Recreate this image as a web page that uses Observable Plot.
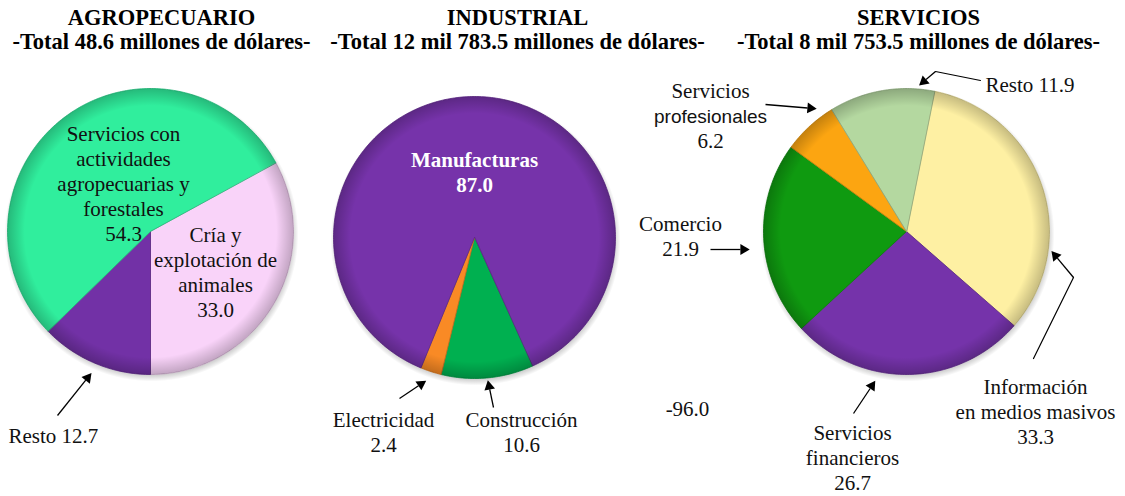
<!DOCTYPE html>
<html><head><meta charset="utf-8">
<script src="https://cdn.jsdelivr.net/npm/d3@7"></script>
<script src="https://cdn.jsdelivr.net/npm/@observablehq/plot@0.6"></script>
<style>
  html,body{margin:0;padding:0;background:#fff;}
  #chart svg{display:block;}
</style>
</head>
<body>
<div id="chart"></div>
<script>
// ---------------- DATA ----------------
const agroTitle = ["AGROPECUARIO", "-Total 48.6 millones de dólares-"];
const indTitle = ["INDUSTRIAL", "-Total 12 mil 783.5 millones de dólares-"];
const servTitle = ["SERVICIOS", "-Total 8 mil 753.5 millones de dólares-"];

const agroCategories = ["Cría y\nexplotación de\nanimales", "Resto", "Servicios con\nactividades\nagropecuarias y\nforestales"];
const agroValues = [33.0, 12.7, 54.3];

const indCategories = ["Construcción", "Electricidad", "Manufacturas"];
const indValues = [10.6, 2.4, 87.0];

const servCategories = ["Información\nen medios masivos", "Servicios\nfinancieros", "Comercio", "Servicios\nprofesionales", "Resto"];
const servValues = [33.3, 26.7, 21.9, 6.2, 11.9];

const strayLabels = ["-96.0"];

// ---------------- LAYOUT / STYLE ----------------
const W = 1125, H = 496;
const SERIF = "Liberation Serif";
const SANS = "Liberation Sans";

const pies = [
  {key: "agro", title: agroTitle, cats: agroCategories, vals: agroValues,
   cx: 150, cy: 231, r: 143, start: 61.2, titleX: 161,
   colors: ["#F9D3F9", "#7231A6", "#30EE9D"],
   labels: [
     {x: 215, y: 316, lh: 25},
     {x: 8, y: 442, anchor: "start", sep: " "},
     {x: 123, y: 240, lh: 25}
   ]},
  {key: "ind", title: indTitle, cats: indCategories, vals: indValues,
   cx: 474, cy: 237, r: 141, start: 155.5, titleX: 517,
   colors: ["#00B050", "#F98A25", "#7633AA"],
   labels: [
     {x: 521, y: 451, lh: 25},
     {x: 383, y: 451, lh: 25},
     {x: 474, y: 191, lh: 25, style: "boldWhite"}
   ]},
  {key: "serv", title: servTitle, cats: servCategories, vals: servValues,
   cx: 906, cy: 231, r: 143, start: 11.3, titleX: 918,
   colors: ["#FEF0A3", "#7533AA", "#0F9A10", "#FCA511", "#B4D8A0"],
   labels: [
     {x: 1035, y: 443, lh: 25},
     {x: 852, y: 489, lh: 25},
     {x: 680, y: 255, lh: 25},
     {x: 710, y: 147, lh: 25, sansLine: 1},
     {x: 985, y: 91, anchor: "start", sep: " "}
   ]}
];

const strayLayout = [{x: 687, y: 415}];

const arrows = [
  {x1: 57, y1: 415, x2: 89, y2: 375},
  {x1: 399, y1: 398, x2: 423, y2: 382},
  {x1: 493, y1: 407, x2: 488, y2: 383},
  {x1: 710, y1: 249, x2: 746, y2: 249},
  {x1: 765, y1: 104, x2: 813, y2: 108},
  {x1: 853, y1: 413, x2: 873, y2: 383},
  {x1: 1073, y1: 277, x2: 1053, y2: 253},
  {x1: 935, y1: 71, x2: 921, y2: 83}
];
const leaders = [
  {id: "info", x: 1033, y: 358}, {id: "info", x: 1073, y: 277},
  {id: "resto", x: 980, y: 80}, {id: "resto", x: 935, y: 71}
];

// ---------------- BUILD ----------------
const slicePts = [];
const rows = [];
pies.forEach(p => {
  const arcs = d3.pie().sort(null)
    .startAngle(p.start * Math.PI / 180)
    .endAngle((p.start + 360) * Math.PI / 180)(p.vals);
  arcs.forEach((a, i) => {
    const key = p.key + i;
    const fill = p.colors[i];
    const stroke = d3.color(fill).darker(0.7).formatHex();
    slicePts.push({key, x: p.cx, y: p.cy, fill, stroke});
    const span = a.endAngle - a.startAngle;
    const steps = Math.max(2, Math.ceil(span * 180 / Math.PI));
    for (let k = 0; k <= steps; k++) {
      const t = a.startAngle + span * k / steps;
      slicePts.push({key, x: p.cx + p.r * Math.sin(t), y: p.cy - p.r * Math.cos(t), fill, stroke});
    }
    const L = p.labels[i];
    const txt = p.cats[i] + (L.sep || "\n") + p.vals[i].toFixed(1);
    const lines = txt.split("\n");
    const n = lines.length;
    lines.forEach((line, j) => {
      rows.push({
        x: L.x, y: L.y - (n - 1 - j) * (L.lh || 25), text: line,
        anchor: L.anchor || "middle",
        style: L.style || (L.sansLine === j ? "sans" : "serif")
      });
    });
  });
});
strayLabels.forEach((t, i) => rows.push({x: strayLayout[i].x, y: strayLayout[i].y, text: t, anchor: "middle", style: "serif"}));

const titleRows = [];
pies.forEach(p => p.title.forEach((t, j) => titleRows.push({x: p.titleX, y: 24 + j * 24, text: t})));

const rimData = pies.map(p => ({x: p.cx, y: p.cy, r: p.r}));
const shadowData = pies.map(p => ({x: p.cx + 1, y: p.cy + 3, r: p.r + 4}));

// arrow shafts + filled heads
const shafts = [], heads = [];
arrows.forEach(a => {
  const dx = a.x2 - a.x1, dy = a.y2 - a.y1, len = Math.hypot(dx, dy);
  const ux = dx / len, uy = dy / len;
  shafts.push({x1: a.x1, y1: a.y1, x2: a.x2 - ux * 6, y2: a.y2 - uy * 6});
  heads.push({x: a.x2 - ux * 3, y: a.y2 - uy * 3, rot: Math.atan2(dx, -dy) * 180 / Math.PI});
});

const textMark = (filterFn, extra) => Plot.text(rows.filter(filterFn), Object.assign({
  x: "x", y: "y", text: "text", lineAnchor: "bottom", fill: "#111"
}, extra));

const plot = Plot.plot({
  width: W, height: H,
  margin: 0,
  x: {domain: [0, W], range: [0, W], axis: null},
  y: {domain: [0, H], range: [0, H], axis: null},
  color: {type: "identity"},
  r: {type: "identity"},
  style: {background: "#fff"},
  marks: [
    Plot.dot(shadowData, {x: "x", y: "y", r: "r", fill: "url(#shadow)", stroke: "none"}),
    Plot.line(slicePts, {x: "x", y: "y", z: "key", fill: "fill", stroke: "stroke",
      strokeWidth: 1, strokeOpacity: 0.8, curve: "linear-closed"}),
    Plot.dot(rimData, {x: "x", y: "y", r: "r", fill: "url(#rim)", stroke: "none"}),
    textMark(d => d.style === "serif" && d.anchor === "middle", {fontFamily: SERIF, fontSize: 21, textAnchor: "middle"}),
    textMark(d => d.style === "serif" && d.anchor === "start", {fontFamily: SERIF, fontSize: 21, textAnchor: "start"}),
    textMark(d => d.style === "sans", {fontFamily: SANS, fontSize: 19, textAnchor: "middle"}),
    textMark(d => d.style === "boldWhite", {fontFamily: SERIF, fontSize: 21, fontWeight: "bold", textAnchor: "middle", fill: "#fff"}),
    Plot.text(titleRows, {x: "x", y: "y", text: "text", lineAnchor: "bottom", fontFamily: SERIF,
      fontSize: 22.5, fontWeight: "bold", textAnchor: "middle", fill: "#000"}),
    Plot.line(leaders, {x: "x", y: "y", z: "id", stroke: "#000", strokeWidth: 1.2}),
    Plot.link(shafts, {x1: "x1", y1: "y1", x2: "x2", y2: "y2", stroke: "#000", strokeWidth: 1.3}),
    Plot.dot(heads, {x: "x", y: "y", rotate: "rot", symbol: "triangle", r: 4, fill: "#000", stroke: "none"})
  ]
});

const svg = d3.select(plot);
const defs = svg.insert("defs", ":first-child");
const g = defs.append("radialGradient").attr("id", "rim");
g.append("stop").attr("offset", "0%").attr("stop-color", "#000").attr("stop-opacity", 0);
g.append("stop").attr("offset", "88%").attr("stop-color", "#000").attr("stop-opacity", 0);
g.append("stop").attr("offset", "100%").attr("stop-color", "#000").attr("stop-opacity", 0.22);
const s = defs.append("radialGradient").attr("id", "shadow");
s.append("stop").attr("offset", "0%").attr("stop-color", "#000").attr("stop-opacity", 0.35);
s.append("stop").attr("offset", "93%").attr("stop-color", "#000").attr("stop-opacity", 0.3);
s.append("stop").attr("offset", "100%").attr("stop-color", "#000").attr("stop-opacity", 0);

document.getElementById("chart").appendChild(plot);
</script>
</body></html>
